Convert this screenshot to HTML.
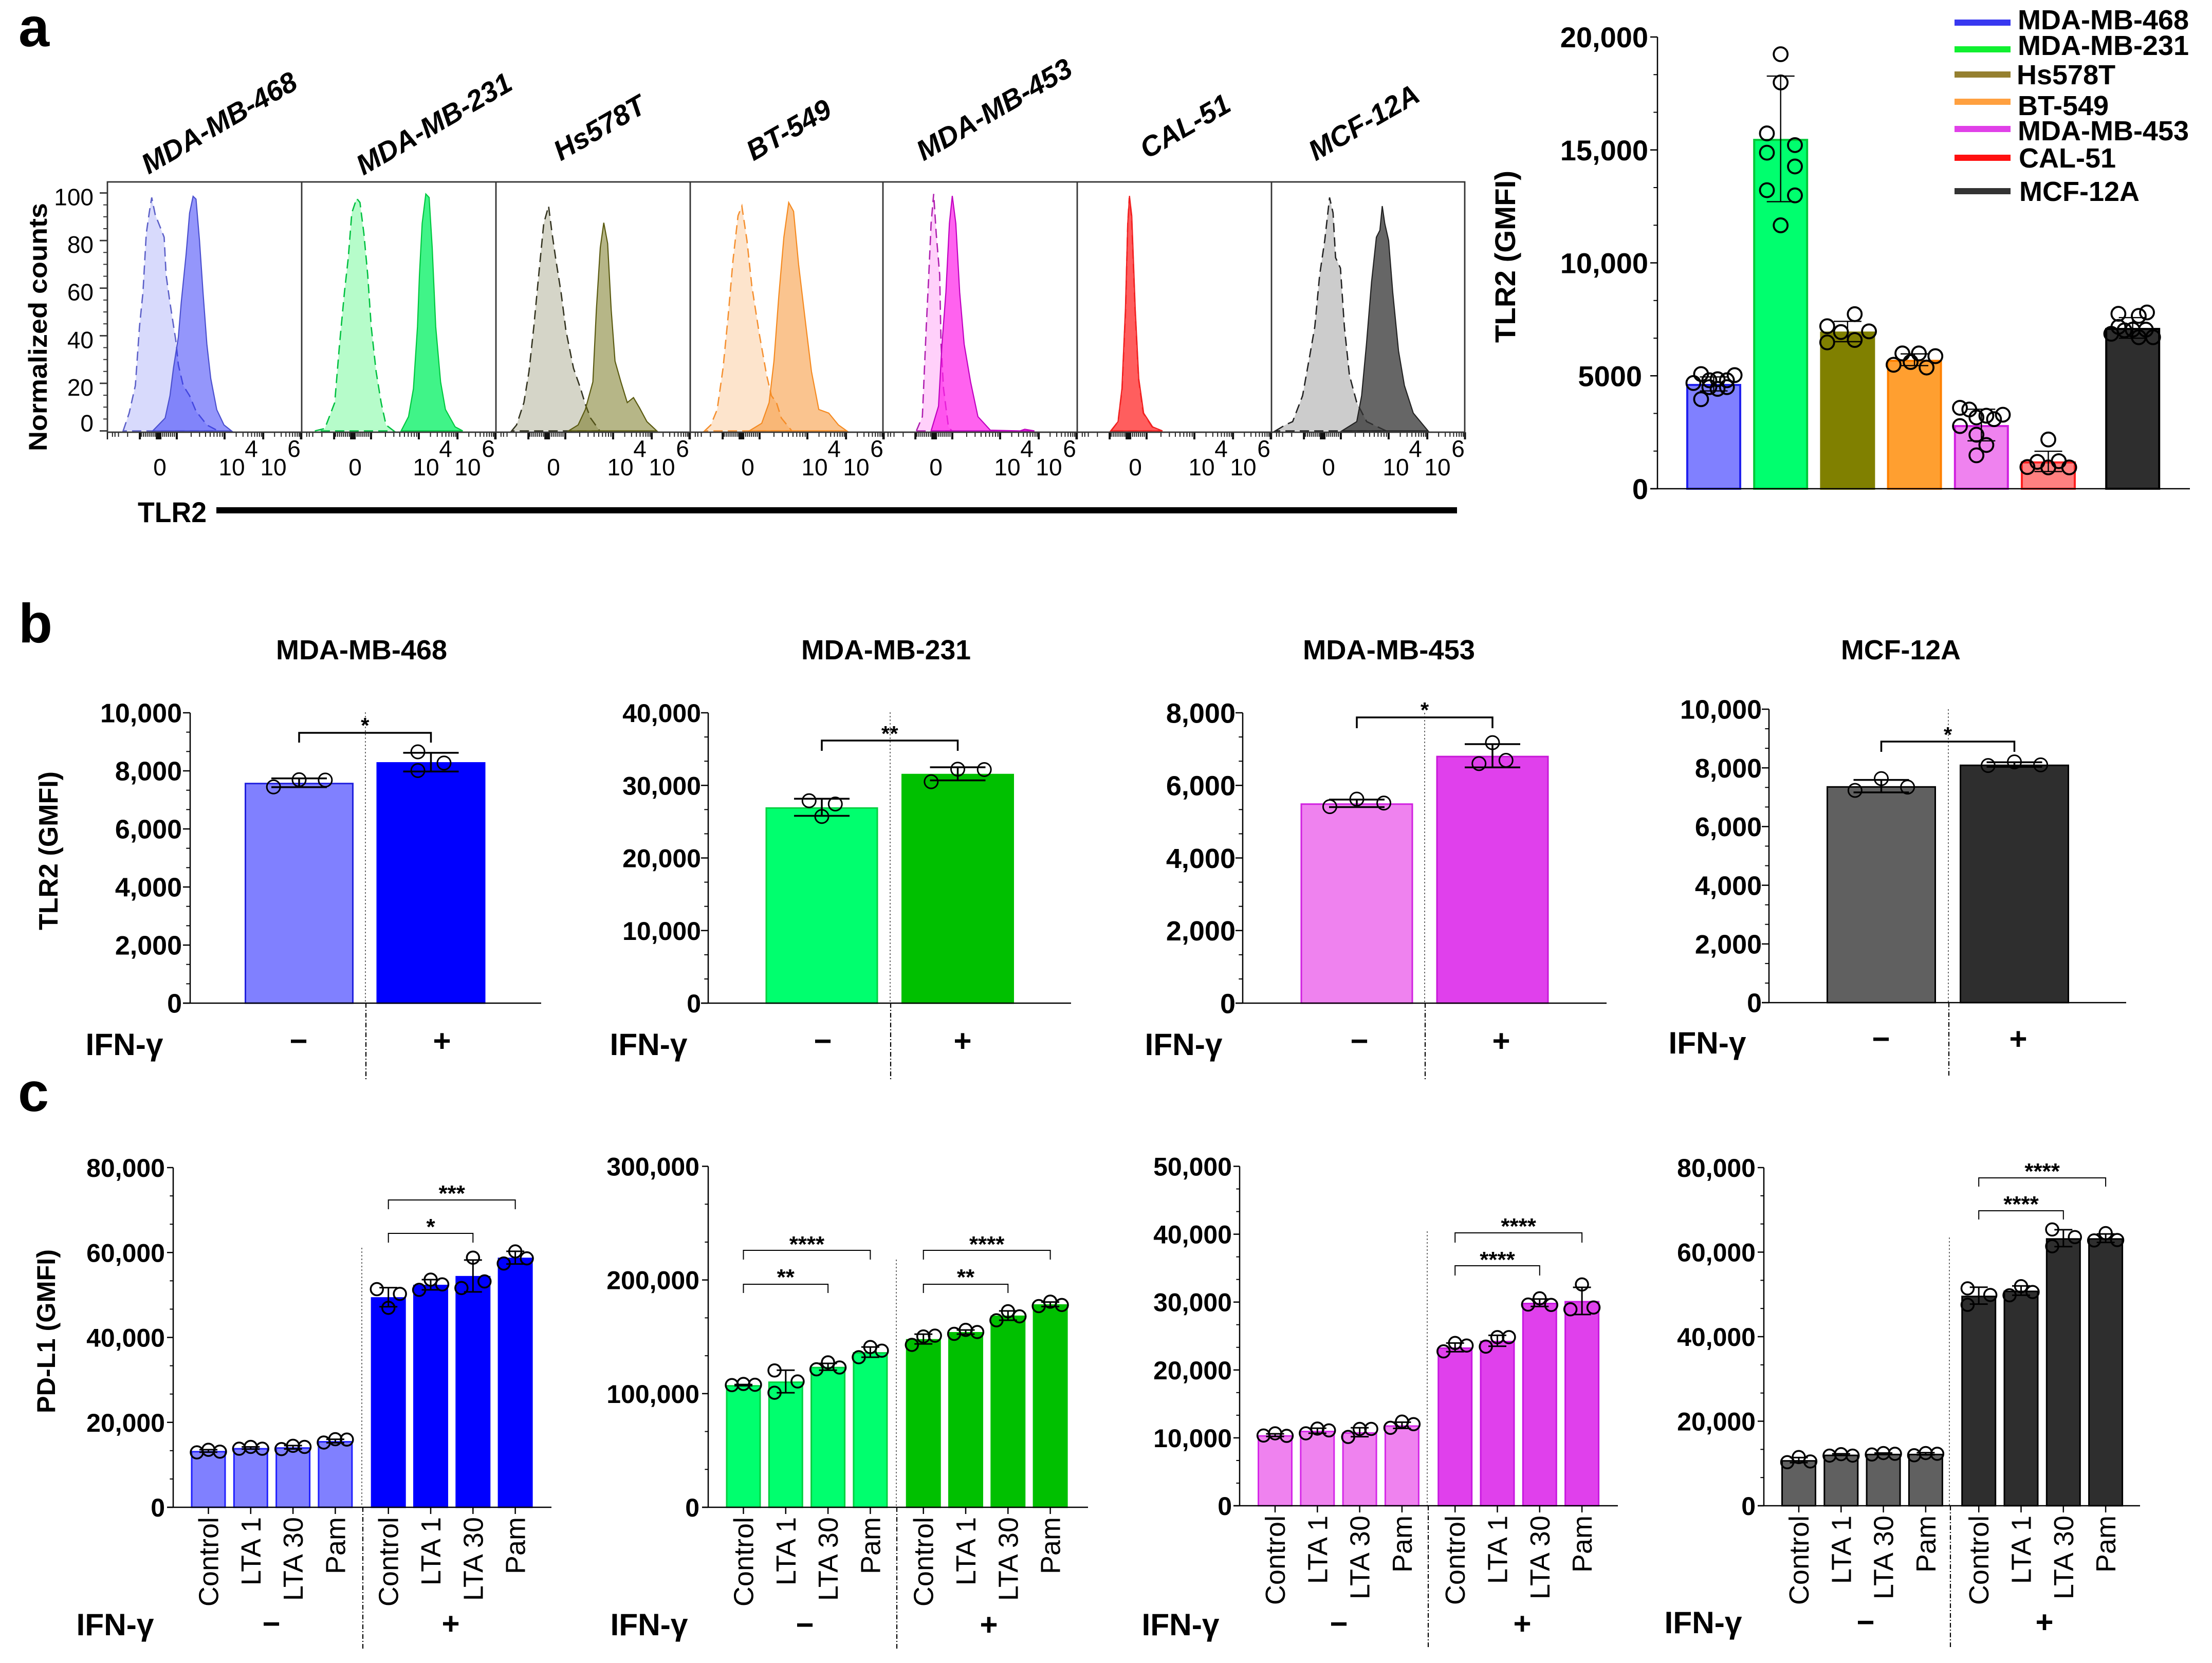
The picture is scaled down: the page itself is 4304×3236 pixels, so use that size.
<!DOCTYPE html>
<html lang="en">
<head>
<meta charset="utf-8">
<title>TLR2 and PD-L1 expression in breast cancer cell lines</title>
<style>
html,body{margin:0;padding:0;background:#fff;width:4304px;height:3236px;overflow:hidden}
svg{display:block}
text{font-family:"Liberation Sans",Arial,sans-serif;fill:#000}
.b{font-weight:bold}
</style>
</head>
<body>
<svg id="figure" width="4304" height="3236" viewBox="0 0 4304 3236">
<rect width="4304" height="3236" fill="#fff"/>

<text class="b" x="36" y="90" font-size="108">a</text>
<text class="b" x="36" y="1250" font-size="108">b</text>
<text class="b" x="35" y="2162" font-size="108">c</text>

<g id="flow"></g>
<g font-weight="bold" font-style="italic" font-size="55">
<text x="289" y="340" transform="rotate(-30 289 340)">MDA-MB-468</text>
<text x="707" y="342" transform="rotate(-30 707 342)">MDA-MB-231</text>
<text x="1091" y="314" transform="rotate(-30 1091 314)">Hs578T</text>
<text x="1466" y="314" transform="rotate(-30 1466 314)">BT-549</text>
<text x="1797" y="314" transform="rotate(-30 1797 314)">MDA-MB-453</text>
<text x="2232" y="310" transform="rotate(-30 2232 310)">CAL-51</text>
<text x="2560" y="314" transform="rotate(-30 2560 314)">MCF-12A</text>
</g>
<text class="b" x="91" y="878" font-size="50" textLength="483" lengthAdjust="spacingAndGlyphs" transform="rotate(-90 91 878)">Normalized counts</text>
<text class="b" x="268" y="1016" font-size="56" textLength="134" lengthAdjust="spacingAndGlyphs">TLR2</text>
<rect x="421" y="987" width="2414" height="12" fill="#000"/>

<g id="chartA"></g>
<text class="b" x="2948" y="667" font-size="56" textLength="335" lengthAdjust="spacingAndGlyphs" transform="rotate(-90 2948 667)">TLR2 (GMFI)</text>
<g font-weight="bold" font-size="54">
<rect x="3803" y="38" width="109" height="12" fill="#3838f0"/>
<text x="3926" y="57">MDA-MB-468</text>
<rect x="3803" y="90" width="109" height="12" fill="#10f030"/>
<text x="3926" y="107">MDA-MB-231</text>
<rect x="3803" y="139" width="109" height="12" fill="#958030"/>
<text x="3924" y="164">Hs578T</text>
<rect x="3803" y="192" width="109" height="12" fill="#ffa040"/>
<text x="3926" y="224">BT-549</text>
<rect x="3803" y="245" width="109" height="12" fill="#e040e8"/>
<text x="3926" y="273">MDA-MB-453</text>
<rect x="3803" y="301" width="109" height="12" fill="#ff1010"/>
<text x="3928" y="326">CAL-51</text>
<rect x="3803" y="366" width="109" height="12" fill="#333"/>
<text x="3929" y="391">MCF-12A</text>
</g>

<g font-weight="bold" font-size="54">
<text x="537" y="1283" textLength="333" lengthAdjust="spacingAndGlyphs">MDA-MB-468</text>
<text x="1559" y="1283" textLength="330" lengthAdjust="spacingAndGlyphs">MDA-MB-231</text>
<text x="2535" y="1283" textLength="335" lengthAdjust="spacingAndGlyphs">MDA-MB-453</text>
<text x="3582" y="1283" textLength="233" lengthAdjust="spacingAndGlyphs">MCF-12A</text>
</g>
<text class="b" x="112" y="1810" font-size="52" textLength="309" lengthAdjust="spacingAndGlyphs" transform="rotate(-90 112 1810)">TLR2 (GMFI)</text>
<g id="chartB1"></g>
<g id="chartB2"></g>
<g id="chartB3"></g>
<g id="chartB4"></g>
<g font-weight="bold" font-size="60" text-anchor="middle">
<text x="242" y="2053" textLength="151" lengthAdjust="spacingAndGlyphs">IFN-γ</text>
<text x="581" y="2046">−</text>
<text x="860" y="2046">+</text>
<text x="1262" y="2053" textLength="151" lengthAdjust="spacingAndGlyphs">IFN-γ</text>
<text x="1601" y="2046">−</text>
<text x="1873" y="2046">+</text>
<text x="2303" y="2053" textLength="151" lengthAdjust="spacingAndGlyphs">IFN-γ</text>
<text x="2645" y="2046">−</text>
<text x="2921" y="2046">+</text>
<text x="3322" y="2050" textLength="151" lengthAdjust="spacingAndGlyphs">IFN-γ</text>
<text x="3660" y="2042">−</text>
<text x="3927" y="2042">+</text>
</g>

<text class="b" x="107" y="2750" font-size="50" textLength="319" lengthAdjust="spacingAndGlyphs" transform="rotate(-90 107 2750)">PD-L1 (GMFI)</text>
<g id="chartC1"></g>
<g id="chartC2"></g>
<g id="chartC3"></g>
<g id="chartC4"></g>
<g font-weight="bold" font-size="60" text-anchor="middle">
<text x="224" y="3182" textLength="151" lengthAdjust="spacingAndGlyphs">IFN-γ</text>
<text x="528" y="3180">−</text>
<text x="877" y="3180">+</text>
<text x="1263" y="3182" textLength="151" lengthAdjust="spacingAndGlyphs">IFN-γ</text>
<text x="1566" y="3182">−</text>
<text x="1924" y="3182">+</text>
<text x="2297" y="3182" textLength="151" lengthAdjust="spacingAndGlyphs">IFN-γ</text>
<text x="2605" y="3180">−</text>
<text x="2962" y="3180">+</text>
<text x="3314" y="3178" textLength="151" lengthAdjust="spacingAndGlyphs">IFN-γ</text>
<text x="3630" y="3177">−</text>
<text x="3978" y="3177">+</text>
</g>
</svg>

<script>
/* ---------- Histogram data: channel (0-100 of the axis) and normalized counts ---------- */
const iso468Ch=[8.1,11.2,14.4,16.5,18.3,20,21.5,22.8,24.6,27.1,29.2,30.2,32.2,35.2,36.5,39,42.3,45.6,51.2,56.3];
const iso468Ct=[0,7.5,19.1,43.8,58.3,82.9,91.6,98.1,90.9,85.8,81.4,65.5,53.9,38,27.8,19.1,14.8,8.3,2.5,0.3];
const st468Ch=[23.3,29.7,32.2,34,36.5,38,40.5,42.3,44.1,45.6,47.4,49.2,51.2,53.2,56.3,60,63.9];
const st468Ct=[0,5.4,14.8,26.4,39.4,53.9,74.2,91.6,98.6,97.4,80,58.3,36.5,22,8.9,2.5,0];
const iso231Ch=[6.8,11.9,17,19.5,22,24,25.8,28.3,30,32,34,35.8,38.3,40.9,43.4,47.4];
const iso231Ct=[0,1,11.9,36.5,58.3,72.8,91.6,97.7,96,83,65.5,43.8,25,11.9,2.5,0];
const st231Ch=[51.2,55,57.5,59.6,60.6,62,63.9,65.6,67.2,69,71.5,74,79,82.9];
const st231Ct=[0,6,17.7,43.8,65.5,87.2,99.6,98.1,77,43.8,20.6,9,1.7,0];
const isoHsCh=[8.1,10.6,14.4,17,19.5,22,24.6,27.1,28.9,30.9,33.5,36,39.9,43.6,46,48.7,53.2];
const isoHsCt=[0,2.5,11.9,25,43.8,65.5,87.2,94.5,83,71.6,58.3,42.3,26.4,17.7,11.2,5.4,0.3];
const stHsCh=[37.3,42.3,46,49.9,51.7,53.7,55.5,57.5,59.3,61.3,64.3,67.6,70.8,73.9,77.7,82.8];
const stHsCt=[0,2.5,9,20.6,51,77,87.5,78.8,51,29.3,20.6,11.9,14,9.7,3.9,0];
const isoBtCh=[7.4,10.6,13.9,16.9,19.5,22,24.6,26.6,29.2,31.7,35.5,39.3,41.8,44.4,46.9,52];
const isoBtCt=[0,2.5,9,26.4,48,71.6,90.4,94.5,80,61,41,23.5,14.8,11.9,5.4,0.3];
const stBtCh=[30.4,36.8,40.6,43.1,45.6,48.2,50.7,53.2,55.8,59.6,62.4,66.2,71.3,76.3,80.6];
const stBtCt=[0,3.2,11.9,29.3,56.8,81.4,96,92.3,69.9,43.8,25,9,7.5,2.5,0];
const iso453Ch=[17.2,20.3,22.3,23.6,24.8,26.1,27.4,29.2,29.9,31.2,33.7,35.5];
const iso453Ct=[0,6,43.8,65.5,87.2,99.6,83,65.5,36.5,17.7,1.7,0];
const st453Ch=[24.8,28.6,30.4,32.4,34.2,35.7,37.5,39.5,41.8,45.1,48.9,55.3,70.5,73,78];
const st453Ct=[0,10.4,36.5,58.3,87.2,98.8,87.2,58.3,36.5,20.6,6,0.3,0,0.7,0];
const isoCalCh=[17.4,21,23.1,24.9,26,26.8,28,29.8,31.6,34,38.6,43.7];
const isoCalCt=[0,3.9,17.7,51,87,98,90,51,22,7.5,1.7,0];
const stCalCh=[17.2,21,23,24.8,26,26.9,28.1,29.9,31.7,34.2,38.8,43.9];
const stCalCt=[0,3.9,17.7,51,87.2,98.8,90.4,51,22,7.5,1.7,0];
const isoMcfCh=[2,7.1,10.9,16,19.8,22.3,24.8,27.4,29.9,31.7,33,35.5,37.5,40.1,43.9,49,59];
const isoMcfCt=[0,2.5,3.9,14.8,32,43.8,65.5,80,98.1,91.6,72.8,68.4,43.8,23.5,11.9,3.9,0];
const stMcfCh=[36.2,43.9,46.4,48.9,51.5,54,55.8,57,58.3,60.3,62.4,65.4,68.4,73,80.6];
const stMcfCt=[0,3.9,14.8,36.5,62.6,81.4,84.3,94.5,87.2,80,58.3,33.6,19.1,7.5,0];

const flowYTicks=[0,20,40,60,80,100];
const flowXLabels=['0','10','10'];
const flowXExponents=['4','6'];

/* ---------- Panel a bar chart ---------- */
const aMeans=[4640,15490,6960,5710,2820,1210,7120];
const aSds=[310,2780,450,260,700,450,455];
const aPoints=[
 [5076,5030,4802,4848,4802,4680,4497,4421,4497,3963],
 [19238,17988,15732,15214,14878,14268,13217,12988,11662],
 [7729,7195,6967,6936,6479,6585],
 [5991,5991,5869,5610,5488,5366],
 [3582,3506,3156,3232,3277,3079,2774,2393,1936,1479],
 [2180,1189,1220,960,945,945],
 [7744,7805,7653,7165,7043,7043,6860,7012,6708,6708]];
const aJitter=[
 [-.23,.38,-.08,.07,.24,-.37,-.08,.07,.24,-.23],
 [0,0,-.25,.26,-.25,.26,-.25,.26,0],
 [.13,-.37,.39,-.12,-.37,.13],
 [-.22,.08,.38,-.07,-.38,.22],
 [-.39,-.22,-.09,.09,.39,.23,-.39,-.09,.09,-.09],
 [0,-.2,.19,-.38,0,.38],
 [-.26,.26,.11,-.26,0,.24,-.39,-.15,.11,.37]];
const aTicks=[0,5000,10000,15000,20000];
const aTickLabels=['0','5000','10,000','15,000','20,000'];

/* ---------- Panel b ---------- */
const J3=[-.24,0,.24];
const b468Means=[7590,8300];
const b468Sds=[152,322];
const b468Points=[[7446,7695,7684],[8655,8271,8011]];
const b468Jitter=[[-.235,0,.24],[-.12,.12,-.12]];
const b231Means=[26983,31593];
const b231Sds=[1180,904];
const b231Points=[[27887,27435,25718],[32226,32181,30508]];
const b231Jitter=[[-.113,.12,0],[0,.236,-.236]];
const b453Means=[5505,6816];
const b453Sds=[104,321];
const b453Points=[[5415,5622,5514],[7177,6690,6600]];
const b453Jitter=[J3,[0,.12,-.12]];
const b12aMeans=[7377,8113];
const b12aSds=[212,78];
const b12aPoints=[[7232,7634,7344],[8080,8203,8103]];
const b12aJitter=[J3,J3];
const ticks10k=[0,2000,4000,6000,8000,10000];
const labels10k=['0','2,000','4,000','6,000','8,000','10,000'];
const ticks40k=[0,10000,20000,30000,40000];
const labels40k=['0','10,000','20,000','30,000','40,000'];
const ticks8k=[0,2000,4000,6000,8000];
const labels8k=['0','2,000','4,000','6,000','8,000'];

/* ---------- Panel c ---------- */
const cCategories=['Control','LTA 1','LTA 30','Pam','Control','LTA 1','LTA 30','Pam'];
const J=[-.33,0,.33];
const c468Means=[13275,13964,14137,15602,49480,52410,54480,58790];
const c468Sds=[300,250,400,420,2250,1200,3750,1500];
const c468Points=[[12930,13533,13102],[13792,14223,13792],[13706,14482,14223],[15257,16033,15947],[51375,50255,46979],[51203,53616,52496],[51634,58788,53185],[57409,60254,58616]];
const c468Jitter=[J,J,J,J,[-.33,.33,0],J,J,J];
const c231Means=[107500,110700,123600,136500,148000,154200,168700,178600];
const c231Sds=[500,9900,3000,4500,4300,1800,4100,2000];
const c231Points=[[107500,108500,107800],[120400,110700,100800],[121400,127500,123000],[132000,141000,137800],[142900,150300,151000],[152600,156100,154200],[164500,172500,168000],[177000,180900,178000]];
const c231Jitter=[J,[-.32,.34,-.32],J,J,J,J,J,J];
const c453Means=[10400,11050,10830,11850,23330,24300,29900,30170];
const c453Sds=[200,370,660,460,640,800,550,2000];
const c453Points=[[10345,10668,10291],[10668,11369,11099],[10130,11315,11315],[11476,12392,12015],[22737,23977,23600],[23438,24839,24839],[29634,30550,29580],[28934,32597,29203]];
const c453Jitter=[J,J,J,J,J,J,J,J];
const c12aMeans=[10800,12100,12300,12300,49700,50900,63300,63300];
const c12aSds=[600,200,170,260,2000,1100,2000,1000];
const c12aPoints=[[10303,11515,10476],[11861,12208,11861],[12121,12467,12294],[11948,12467,12294],[51428,49870,47532],[49783,51948,50563],[65368,63549,61385],[62770,64502,62857]];
const c12aJitter=[J,J,J,J,[-.32,.33,-.32],J,[-.32,.33,-.32],J];
const ticks80k=[0,20000,40000,60000,80000];
const labels80k=['0','20,000','40,000','60,000','80,000'];
const ticks300k=[0,100000,200000,300000];
const labels300k=['0','100,000','200,000','300,000'];
const ticks50k=[0,10000,20000,30000,40000,50000];
const labels50k=['0','10,000','20,000','30,000','40,000','50,000'];

/* ---------- Drawing ---------- */
const NS=document.getElementById('figure').namespaceURI;
function mk(parent,tag,attrs,text){
  const e=document.createElementNS(NS,tag);
  for(const k in attrs)e.setAttribute(k,attrs[k]);
  if(text!==undefined)e.textContent=text;
  parent.appendChild(e);
  return e;
}

/* Flow histograms */
const flowLayout={lefts:[209,587,965,1343,1718,2096,2474],width:378,right:2850,top:354,bottom:841,zeroY:838.5,perCount:4.63,zeroLabelX:[102,104,112,112,103,113,111]};
const flowPanels=[
 {isoCh:iso468Ch,isoCt:iso468Ct,stCh:st468Ch,stCt:st468Ct,isoFill:'#d8dafc',isoStroke:'#5c60c8',stFill:'#2a2ef8',stOp:.5,stStroke:'#4a4fcf'},
 {isoCh:iso231Ch,isoCt:iso231Ct,stCh:st231Ch,stCt:st231Ct,isoFill:'#b6fcca',isoStroke:'#00c040',stFill:'#00f060',stOp:.75,stStroke:'#00c840'},
 {isoCh:isoHsCh,isoCt:isoHsCt,stCh:stHsCh,stCt:stHsCt,isoFill:'#d5d5c8',isoStroke:'#333320',stFill:'#6e6e10',stOp:.5,stStroke:'#5a5a10'},
 {isoCh:isoBtCh,isoCt:isoBtCt,stCh:stBtCh,stCt:stBtCt,isoFill:'#fde4cc',isoStroke:'#f59030',stFill:'#f58a20',stOp:.5,stStroke:'#f58a20'},
 {isoCh:iso453Ch,isoCt:iso453Ct,stCh:st453Ch,stCt:st453Ct,isoFill:'#ffd0fa',isoStroke:'#b020b0',stFill:'#ff20e8',stOp:.7,stStroke:'#c000c0'},
 {isoCh:isoCalCh,isoCt:isoCalCt,stCh:stCalCh,stCt:stCalCt,isoFill:'#ffd0d0',isoStroke:'#f02020',stFill:'#ff2020',stOp:.65,stStroke:'#f02020'},
 {isoCh:isoMcfCh,isoCt:isoMcfCt,stCh:stMcfCh,stCt:stMcfCt,isoFill:'#cccccc',isoStroke:'#222222',stFill:'#333333',stOp:.75,stStroke:'#222222'}
];
function flowX(p,ch){return flowLayout.lefts[p]+ch/100*flowLayout.width;}
function flowY(ct){return flowLayout.zeroY-ct*flowLayout.perCount;}
function histPath(p,chs,cts){
  let d='M'+flowX(p,chs[0]).toFixed(1)+' '+flowY(0).toFixed(1);
  chs.forEach((c,i)=>{d+='L'+flowX(p,c).toFixed(1)+' '+flowY(cts[i]).toFixed(1);});
  d+='L'+flowX(p,chs[chs.length-1]).toFixed(1)+' '+flowY(0).toFixed(1)+'Z';
  return d;
}
function drawFlow(){
  const g=document.getElementById('flow');
  const F=flowLayout;
  flowPanels.forEach((P,p)=>{
    const iso=mk(g,'path',{d:histPath(p,P.isoCh,P.isoCt),fill:P.isoFill,stroke:P.isoStroke,'stroke-width':2.6,'stroke-dasharray':'18 10'});
    
    
    const st=mk(g,'path',{d:histPath(p,P.stCh,P.stCt),fill:P.stFill,'fill-opacity':P.stOp,stroke:P.stStroke,'stroke-width':2.2});
    
    
    drawFlowXAxis(g,p);
  });
  const frame=mk(g,'rect',{x:F.lefts[0],y:F.top,width:F.right-F.lefts[0],height:F.bottom-F.top,fill:'none',stroke:'#333','stroke-width':2.8});
  
  
  F.lefts.slice(1).forEach(x=>{
    const div=mk(g,'line',{x1:x,x2:x,y1:F.top,y2:F.bottom,stroke:'#333','stroke-width':2.8});
    
    
  });
  flowYTicks.forEach((v,i)=>{
    const y=flowY(v);
    const t=mk(g,'line',{x1:F.lefts[0]-15,x2:F.lefts[0],y1:y,y2:y,stroke:'#333','stroke-width':2.8});
    
    
    const l=mk(g,'text',{x:F.lefts[0]-27,y:y+(v===0?1:24),'font-size':46,'text-anchor':'end'},String(v));
    
    
    if(i<flowYTicks.length-1){
      for(let k=1;k<4;k++){
        const my=flowY(v+(flowYTicks[i+1]-v)*k/4);
        const mt=mk(g,'line',{x1:F.lefts[0]-8,x2:F.lefts[0],y1:my,y2:my,stroke:'#333','stroke-width':2});
        
        
      }
    }
  });
}
function drawFlowXAxis(g,p){
  const F=flowLayout,base=F.bottom;
  const majors=[0,16.7,35.7,60.3,80.2,99.6];
  const minors=[2.6,3.9,5.7,10.4];
  for(let c=17.5;c<35.5;c+=1)minors.push(c);
  [[35.7,60.3],[60.3,80.2],[80.2,99.6]].forEach(d=>{
    for(let k=2;k<10;k++)minors.push(d[0]+(d[1]-d[0])*Math.log10(k));
  });
  minors.forEach(c=>{
    const x=flowX(p,c);
    const t=mk(g,'line',{x1:x,x2:x,y1:base,y2:base+9,stroke:'#222','stroke-width':2});
    
    
  });
  majors.forEach(c=>{
    const x=flowX(p,c);
    const t=mk(g,'line',{x1:x,x2:x,y1:base,y2:base+14,stroke:'#111','stroke-width':c===0?2.5:4});
    
    
  });
  const zeroBlock=mk(g,'rect',{x:flowX(p,24.9),y:base,width:flowX(p,27.8)-flowX(p,24.9),height:14,fill:'#111'});
  
  
  const L=F.lefts[p];
  const xs=[F.zeroLabelX[p],242,323];
  flowXLabels.forEach((s,i)=>{
    const l=mk(g,'text',{x:L+xs[i],y:925,'font-size':46,'text-anchor':'middle'},s);
    
    
  });
  const ex=[280,363];
  flowXExponents.forEach((s,i)=>{
    const l=mk(g,'text',{x:L+ex[i],y:889,'font-size':46,'text-anchor':'middle'},s);
    
    
  });
}

/* Bar charts */
function yOf(L,v){return L.base-v/L.max*(L.base-L.top);}
function xOf(L,i){return L.x0+i*L.pitch+(L.gapIdx!==undefined&&i>=L.gapIdx?L.gap:0);}

function drawYAxis(g,L,ticks,labels){
  const ax=mk(g,'line',{x1:L.axisX,x2:L.axisX,y1:L.top,y2:L.base,stroke:'#000','stroke-width':2.5});
  
  
  const bl=mk(g,'line',{x1:L.axisX-L.tick,x2:L.right,y1:L.base,y2:L.base,stroke:'#000','stroke-width':2.5});
  
  
  ticks.forEach((v,i)=>{
    const y=yOf(L,v);
    const t=mk(g,'line',{x1:L.axisX-L.tick,x2:L.axisX,y1:y,y2:y,stroke:'#000','stroke-width':2.5});
    
    
    const shift=(L.labelShift&&L.labelShift[i])||0;
    const lab=mk(g,'text',{x:L.lblRight+shift,y:y+L.fs*.36,'font-size':L.fs,'font-weight':'bold','text-anchor':'end'},labels[i]);
    
    
    if(i<ticks.length-1){
      for(let k=1;k<3;k++){
        const my=yOf(L,v+(ticks[i+1]-v)*k/3);
        const m=mk(g,'line',{x1:L.axisX-L.tick*.55,x2:L.axisX,y1:my,y2:my,stroke:'#000','stroke-width':2});
        
        
      }
    }
  });
}
function drawBars(g,L,means,sds,points,jitter){
  means.forEach((m,i)=>{
    const cx=xOf(L,i),sw=L.barStroke;
    const y=yOf(L,m);
    const r=mk(g,'rect',{x:cx-L.barW/2+sw/2,y:y+sw/2,width:L.barW-sw,height:Math.max(0,L.base-y-sw/2),fill:L.fills[i],stroke:L.strokes[i],'stroke-width':sw});
    
    
  });
  means.forEach((m,i)=>{
    const cx=xOf(L,i),hi=yOf(L,m+sds[i]),lo=yOf(L,m-sds[i]);
    const stem=mk(g,'line',{x1:cx,x2:cx,y1:hi,y2:lo,stroke:'#000','stroke-width':L.errW});
    
    
    [hi,lo].forEach(yy=>{
      const c=mk(g,'line',{x1:cx-L.cap/2,x2:cx+L.cap/2,y1:yy,y2:yy,stroke:'#000','stroke-width':L.errW});
      
      
    });
    points[i].forEach((v,j)=>{
      const p=mk(g,'circle',{cx:cx+jitter[i][j]*L.barW,cy:yOf(L,v),r:L.ptR,fill:'none',stroke:'#000','stroke-width':L.ptW});
      
      
    });
  });
}
function drawCategories(g,L,cats){
  cats.forEach((c,i)=>{
    const x=xOf(L,i);
    const t=mk(g,'line',{x1:x,x2:x,y1:L.base,y2:L.base+13,stroke:'#000','stroke-width':2.5});
    
    
    const bx=x+19,by=L.base+19;
    const l=mk(g,'text',{x:bx,y:by,'font-size':54,'text-anchor':'end',transform:'rotate(-90 '+bx+' '+by+')'},c);
    
    
  });
}
function drawBrackets(g,L,list,sw,fs){
  list.forEach(b=>{
    const a=xOf(L,b.from),c=xOf(L,b.to);
    const br=mk(g,'path',{d:'M'+a+' '+(b.y+b.drop)+'V'+b.y+'H'+c+'V'+(b.y+b.drop),fill:'none',stroke:'#000','stroke-width':sw});
    
    
    const s=mk(g,'text',{x:(a+c)/2,y:b.starY+fs*.5,'font-size':fs,'font-weight':'bold','text-anchor':'middle'},b.stars);
    
    
  });
}
function drawDivider(g,L){
  const d=L.div;
  const up=mk(g,'line',{x1:d.xTop,x2:d.xTop,y1:d.yTop,y2:L.base,stroke:'#444','stroke-width':1.6,'stroke-dasharray':'3 4'});
  
  
  const dn=mk(g,'line',{x1:d.xBot,x2:d.xBot,y1:L.base,y2:d.yBot,stroke:'#000','stroke-width':2.2,'stroke-dasharray':'9 4 2 4'});
  
  
}

const lightBlue='#8080ff',blue='#0000ff',lightGreen='#00ff6e',green='#00c000',lightMag='#ef82ef',mag='#e040ec',lightGrey='#606060',darkGrey='#2e2e2e';
function pair(a,b){return [a,b];}
function eight(a,b){return [a,a,a,a,b,b,b,b];}

const layoutA={axisX:3225,top:72,base:951,right:4261,max:20000,tick:14,lblRight:3207,labelShift:{1:-12},fs:56,x0:3334.5,pitch:130.2,gapIdx:6,gap:34,barW:107,barStroke:4,errW:2.4,cap:54,ptR:13.5,ptW:3.8,
 fills:[lightBlue,'#00ff6e','#808000','#ff9f30','#ef82ef','#ff8080','#2e2e2e'],
 strokes:['#2020ee','#00c838','#808000','#ff8000','#d020e0','#ff2020','#000']};
function bLayout(o){return Object.assign({tick:14,barStroke:3,errW:3.5,cap:108,ptR:13,ptW:3,top:1387,base:1952},o);}
const layoutB1=bLayout({axisX:370,right:1053,max:10000,lblRight:354,fs:52,x0:582,pitch:256.5,barW:212,fills:pair(lightBlue,blue),strokes:pair('#2020dd',blue),div:{xTop:711,yTop:1386,xBot:712,yBot:2100}});
const layoutB2=bLayout({axisX:1378,right:2084,max:40000,lblRight:1364,fs:50,x0:1599,pitch:264.5,barW:219,fills:pair(lightGreen,green),strokes:pair('#00d040',green),div:{xTop:1732,yTop:1386,xBot:1733,yBot:2100}});
const layoutB3=bLayout({axisX:2418,right:3126,max:8000,lblRight:2404,fs:54,x0:2640,pitch:264,barW:219,fills:pair(lightMag,mag),strokes:pair('#d020e0','#c818d8'),div:{xTop:2772,yTop:1387,xBot:2773,yBot:2100}});
const layoutB4=bLayout({axisX:3442,top:1380,base:1951,right:4137,max:10000,lblRight:3428,fs:52,x0:3660.5,pitch:259,barW:213,fills:pair(lightGrey,darkGrey),strokes:pair('#000','#000'),div:{xTop:3791,yTop:1380,xBot:3792,yBot:2096}});
function cLayout(o){return Object.assign({tick:12,pitch:82.3,gapIdx:4,gap:21,barW:68,barStroke:3,errW:3,cap:35,ptR:12,ptW:3.5,lblRight:0,fs:50},o);}
const layoutC1=cLayout({axisX:337,top:2272,base:2933,right:1073,max:80000,lblRight:321,x0:405.5,fills:eight(lightBlue,blue),strokes:eight('#2020ff',blue),div:{xTop:704,yTop:2428,xBot:706,yBot:3208}});
const layoutC2=cLayout({axisX:1378,top:2269.5,base:2933,right:2117,max:300000,lblRight:1361,x0:1446.5,fills:eight(lightGreen,green),strokes:eight('#00d040',green),div:{xTop:1744,yTop:2451,xBot:1745,yBot:3208}});
const layoutC3=cLayout({axisX:2412,top:2269.5,base:2930,right:3148,max:50000,lblRight:2397,x0:2481,fills:eight(lightMag,mag),strokes:eight('#d528e8','#c818e0'),div:{xTop:2777,yTop:2396,xBot:2779,yBot:3208}});
const layoutC4=cLayout({axisX:3432,top:2272,base:2930,right:4164,max:80000,lblRight:3416,x0:3500,fills:eight(lightGrey,darkGrey),strokes:eight('#000','#000'),div:{xTop:3793,yTop:2408,xBot:3795,yBot:3206}});

function drawChart(id,L,ticks,labels,means,sds,points,jitter,cats,brackets,bw,bfs){
  const g=document.getElementById(id);
  if(L.div)drawDivider(g,L);
  drawBars(g,L,means,sds,points,jitter);
  drawYAxis(g,L,ticks,labels);
  if(cats)drawCategories(g,L,cats);
  if(brackets)drawBrackets(g,L,brackets,bw,bfs);
}

drawFlow();
drawChart('chartA',layoutA,aTicks,aTickLabels,aMeans,aSds,aPoints,aJitter);
drawChart('chartB1',layoutB1,ticks10k,labels10k,b468Means,b468Sds,b468Points,b468Jitter,null,[{from:0,to:1,y:1426,drop:19,stars:'*',starY:1405}],3.5,42);
drawChart('chartB2',layoutB2,ticks40k,labels40k,b231Means,b231Sds,b231Points,b231Jitter,null,[{from:0,to:1,y:1441,drop:20,stars:'**',starY:1421}],3.5,42);
drawChart('chartB3',layoutB3,ticks8k,labels8k,b453Means,b453Sds,b453Points,b453Jitter,null,[{from:0,to:1,y:1396,drop:21,stars:'*',starY:1375}],3.5,42);
drawChart('chartB4',layoutB4,ticks10k,labels10k,b12aMeans,b12aSds,b12aPoints,b12aJitter,null,[{from:0,to:1,y:1443,drop:20,stars:'*',starY:1423}],3.5,42);
drawChart('chartC1',layoutC1,ticks80k,labels80k,c468Means,c468Sds,c468Points,c468Jitter,cCategories,[{from:4,to:6,y:2400,drop:18,stars:'*',starY:2380},{from:4,to:7,y:2335,drop:18,stars:'***',starY:2315}],2,44);
drawChart('chartC2',layoutC2,ticks300k,labels300k,c231Means,c231Sds,c231Points,c231Jitter,cCategories,[{from:0,to:2,y:2499,drop:17,stars:'**',starY:2478},{from:0,to:3,y:2433,drop:18,stars:'****',starY:2414},{from:4,to:6,y:2499,drop:17,stars:'**',starY:2478},{from:4,to:7,y:2433,drop:18,stars:'****',starY:2414}],2,44);
drawChart('chartC3',layoutC3,ticks50k,labels50k,c453Means,c453Sds,c453Points,c453Jitter,cCategories,[{from:4,to:6,y:2463,drop:19,stars:'****',starY:2444},{from:4,to:7,y:2399,drop:19,stars:'****',starY:2379}],2,44);
drawChart('chartC4',layoutC4,ticks80k,labels80k,c12aMeans,c12aSds,c12aPoints,c12aJitter,cCategories,[{from:4,to:6,y:2356,drop:17,stars:'****',starY:2336},{from:4,to:7,y:2292,drop:17,stars:'****',starY:2272}],2,44);
</script>
</body>
</html>
